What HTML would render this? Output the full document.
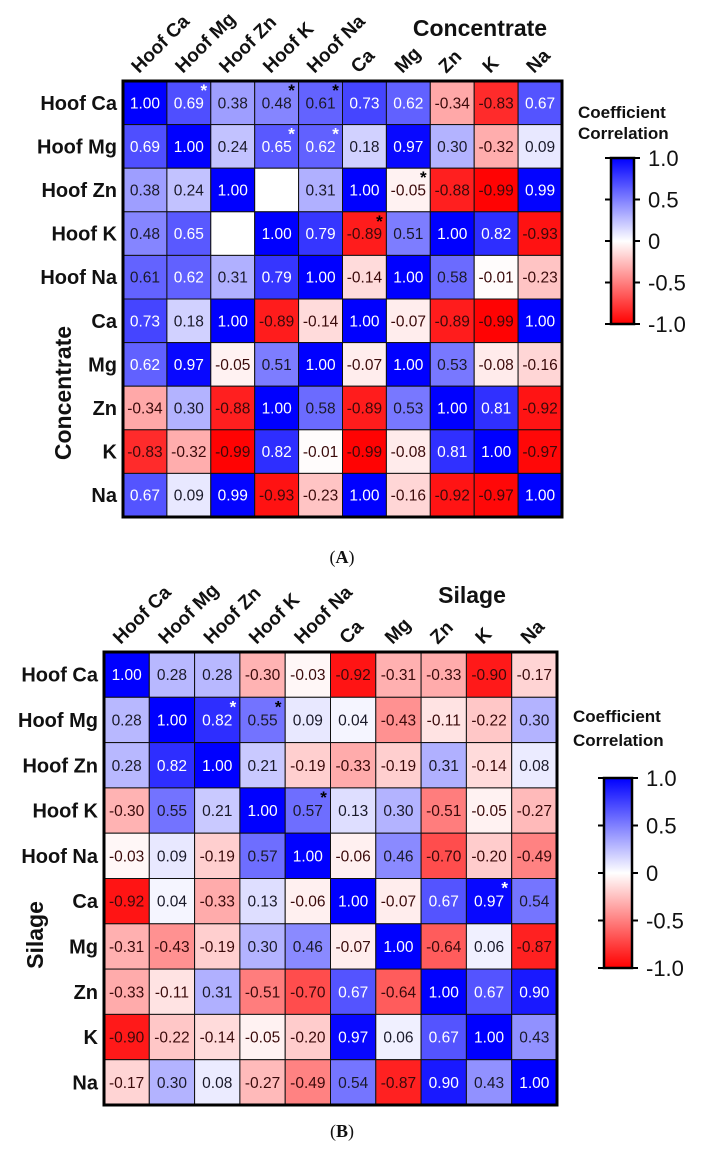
<!DOCTYPE html>
<html><head><meta charset="utf-8"><style>
html,body{margin:0;padding:0;background:#fff}
svg{display:block}
text{font-family:"Liberation Sans",Arial,sans-serif}
</style></head><body>
<svg id="svg" width="704" height="1149" viewBox="0 0 704 1149" xmlns="http://www.w3.org/2000/svg">
<defs>
<linearGradient id="cg" x1="0" y1="0" x2="0" y2="1">
<stop offset="0" stop-color="#0000ff"/><stop offset="0.5" stop-color="#ffffff"/><stop offset="1" stop-color="#ff0000"/>
</linearGradient>
</defs>
</svg>
<script>
const colLabelsA = ["Hoof Ca","Hoof Mg","Hoof Zn","Hoof K","Hoof Na","Ca","Mg","Zn","K","Na"];
const rowLabelsA = ["Hoof Ca","Hoof Mg","Hoof Zn","Hoof K","Hoof Na","Ca","Mg","Zn","K","Na"];
const valuesA = [
[1.00,0.69,0.38,0.48,0.61,0.73,0.62,-0.34,-0.83,0.67],
[0.69,1.00,0.24,0.65,0.62,0.18,0.97,0.30,-0.32,0.09],
[0.38,0.24,1.00,null,0.31,1.00,-0.05,-0.88,-0.99,0.99],
[0.48,0.65,null,1.00,0.79,-0.89,0.51,1.00,0.82,-0.93],
[0.61,0.62,0.31,0.79,1.00,-0.14,1.00,0.58,-0.01,-0.23],
[0.73,0.18,1.00,-0.89,-0.14,1.00,-0.07,-0.89,-0.99,1.00],
[0.62,0.97,-0.05,0.51,1.00,-0.07,1.00,0.53,-0.08,-0.16],
[-0.34,0.30,-0.88,1.00,0.58,-0.89,0.53,1.00,0.81,-0.92],
[-0.83,-0.32,-0.99,0.82,-0.01,-0.99,-0.08,0.81,1.00,-0.97],
[0.67,0.09,0.99,-0.93,-0.23,1.00,-0.16,-0.92,-0.97,1.00]];
const starsA = [[0,1,"w"],[0,3,"k"],[0,4,"k"],[1,3,"w"],[1,4,"w"],[2,6,"k"],[3,5,"k"]];
const colLabelsB = ["Hoof Ca","Hoof Mg","Hoof Zn","Hoof K","Hoof Na","Ca","Mg","Zn","K","Na"];
const rowLabelsB = ["Hoof Ca","Hoof Mg","Hoof Zn","Hoof K","Hoof Na","Ca","Mg","Zn","K","Na"];
const valuesB = [
[1.00,0.28,0.28,-0.30,-0.03,-0.92,-0.31,-0.33,-0.90,-0.17],
[0.28,1.00,0.82,0.55,0.09,0.04,-0.43,-0.11,-0.22,0.30],
[0.28,0.82,1.00,0.21,-0.19,-0.33,-0.19,0.31,-0.14,0.08],
[-0.30,0.55,0.21,1.00,0.57,0.13,0.30,-0.51,-0.05,-0.27],
[-0.03,0.09,-0.19,0.57,1.00,-0.06,0.46,-0.70,-0.20,-0.49],
[-0.92,0.04,-0.33,0.13,-0.06,1.00,-0.07,0.67,0.97,0.54],
[-0.31,-0.43,-0.19,0.30,0.46,-0.07,1.00,-0.64,0.06,-0.87],
[-0.33,-0.11,0.31,-0.51,-0.70,0.67,-0.64,1.00,0.67,0.90],
[-0.90,-0.22,-0.14,-0.05,-0.20,0.97,0.06,0.67,1.00,0.43],
[-0.17,0.30,0.08,-0.27,-0.49,0.54,-0.87,0.90,0.43,1.00]];
const starsB = [[1,2,"w"],[1,3,"k"],[3,4,"k"],[5,8,"w"]];
const colorTicks = [1.0,0.5,0,-0.5,-1.0];
const colorTickLabels = ["1.0","0.5","0","-0.5","-1.0"];

const NS="http://www.w3.org/2000/svg";
const svg=document.getElementById('svg');
function mk(tag,attrs,parent){const e=document.createElementNS(NS,tag);for(const k in attrs)e.setAttribute(k,attrs[k]);(parent||svg).appendChild(e);return e;}
function color(v){
  if(v===null)return "#ffffff";
  const t=Math.min(1,Math.abs(v));
  const c=Math.round(255*(1-t));
  return v>=0?`rgb(${c},${c},255)`:`rgb(255,${c},${c})`;
}
function fmt(v){return (v<0?"-":"")+Math.abs(v).toFixed(2);}

function heatmap(cfg){
  const {x0,y0,cw,ch,vals,cols,rows,stars,title,titleX,titleY,yTitleX,yTitleY,rowLabelX,cb,panel}=cfg;
  const g=mk('g',{});
  
  
  const xs=i=>x0+i*cw, ys=j=>y0+j*ch;
  vals.forEach((row,r)=>row.forEach((v,c)=>{
    const rect=mk('rect',{x:xs(c),y:ys(r),width:cw,height:ch,fill:color(v),stroke:'#111','stroke-width':1},g);
    
    
    if(v!==null){
      const white=v>=0.62;
      const t=mk('text',{x:xs(c)+cw/2,y:ys(r)+ch/2+5.5,'text-anchor':'middle','font-size':15.5,fill:white?'#ffffff':(v<0?'#3a0a0a':'#1a1a2a')},g);
      t.textContent=fmt(v);
      
      
    }
  }));
  stars.forEach(s=>{
    const t=mk('text',{x:xs(s[1]+1)-7,y:ys(s[0])+15,'text-anchor':'middle','font-size':17,'font-weight':'bold',fill:s[2]==='w'?'#fff':'#000'},g);
    t.textContent='*';
    
    
  });
  mk('rect',{x:x0,y:y0,width:cw*10,height:ch*10,fill:'none',stroke:'#000','stroke-width':3},g);
  rows.forEach((l,r)=>{
    const t=mk('text',{x:rowLabelX,y:ys(r)+ch/2+7,'text-anchor':'end','font-size':20,'font-weight':'bold',fill:'#111'},g);
    t.textContent=l;
    
    
  });
  cols.forEach((l,c)=>{
    const cx=xs(c)+cw/2-6, cy=y0-7;
    const t=mk('text',{x:cx,y:cy,transform:`rotate(-45 ${cx} ${cy})`,'font-size':19,'font-weight':'bold',fill:'#111'},g);
    t.textContent=l;
    
    
  });
  const tt=mk('text',{x:titleX,y:titleY,'text-anchor':'middle','font-size':23,'font-weight':'bold',fill:'#111'},g);
  tt.textContent=title;
  
  
  const yt=mk('text',{x:yTitleX,y:yTitleY,transform:`rotate(-90 ${yTitleX} ${yTitleY})`,'text-anchor':'middle','font-size':23,'font-weight':'bold',fill:'#111'},g);
  yt.textContent=title;
  
  
  // colorbar
  const cg=mk('g',{});
  
  
  [["Coefficient",cb.ty1],["Correlation",cb.ty2]].forEach(p=>{
    const t=mk('text',{x:cb.tx,y:p[1],'font-size':17,'font-weight':'bold',fill:'#111'},cg);
    t.textContent=p[0];
    
    
  });
  mk('rect',{x:cb.x,y:cb.y0,width:cb.w,height:cb.y1-cb.y0,fill:'url(#cg)',stroke:'#000','stroke-width':2.5},cg);
  const cy=v=>cb.y0+(1-v)/2*(cb.y1-cb.y0);
  colorTicks.forEach((v,i)=>{
    mk('line',{x1:cb.x-6,x2:cb.x,y1:cy(v),y2:cy(v),stroke:'#000','stroke-width':2},cg);
    mk('line',{x1:cb.x+cb.w,x2:cb.x+cb.w+6,y1:cy(v),y2:cy(v),stroke:'#000','stroke-width':2},cg);
    const t=mk('text',{x:cb.x+cb.w+14,y:cy(v)+8,'font-size':22,fill:'#111'},cg);
    t.textContent=colorTickLabels[i];
    
    
  });
}
heatmap({panel:'panel-a',x0:123,y0:81,cw:43.9,ch:43.6,vals:valuesA,cols:colLabelsA,rows:rowLabelsA,stars:starsA,
 title:'Concentrate',titleX:480,titleY:36,yTitleX:71,yTitleY:393,rowLabelX:117,
 cb:{x:611,w:23,y0:158,y1:324,tx:578,ty1:118,ty2:139}});
heatmap({panel:'panel-b',x0:104,y0:652,cw:45.3,ch:45.3,vals:valuesB,cols:colLabelsB,rows:rowLabelsB,stars:starsB,
 title:'Silage',titleX:472,titleY:603,yTitleX:43,yTitleY:935,rowLabelX:98,
 cb:{x:604,w:28,y0:778,y1:968,tx:573,ty1:722,ty2:746}});
[["(A)",563],["(B)",1137]].forEach(p=>{
  const t=mk('text',{x:342,y:p[1],'text-anchor':'middle','font-size':18,fill:'#111'});
  t.innerHTML='(<tspan font-weight="bold">'+p[0][1]+'</tspan>)';
  t.style.fontFamily='"Liberation Serif",serif';
  
  
});
</script>
</body></html>
